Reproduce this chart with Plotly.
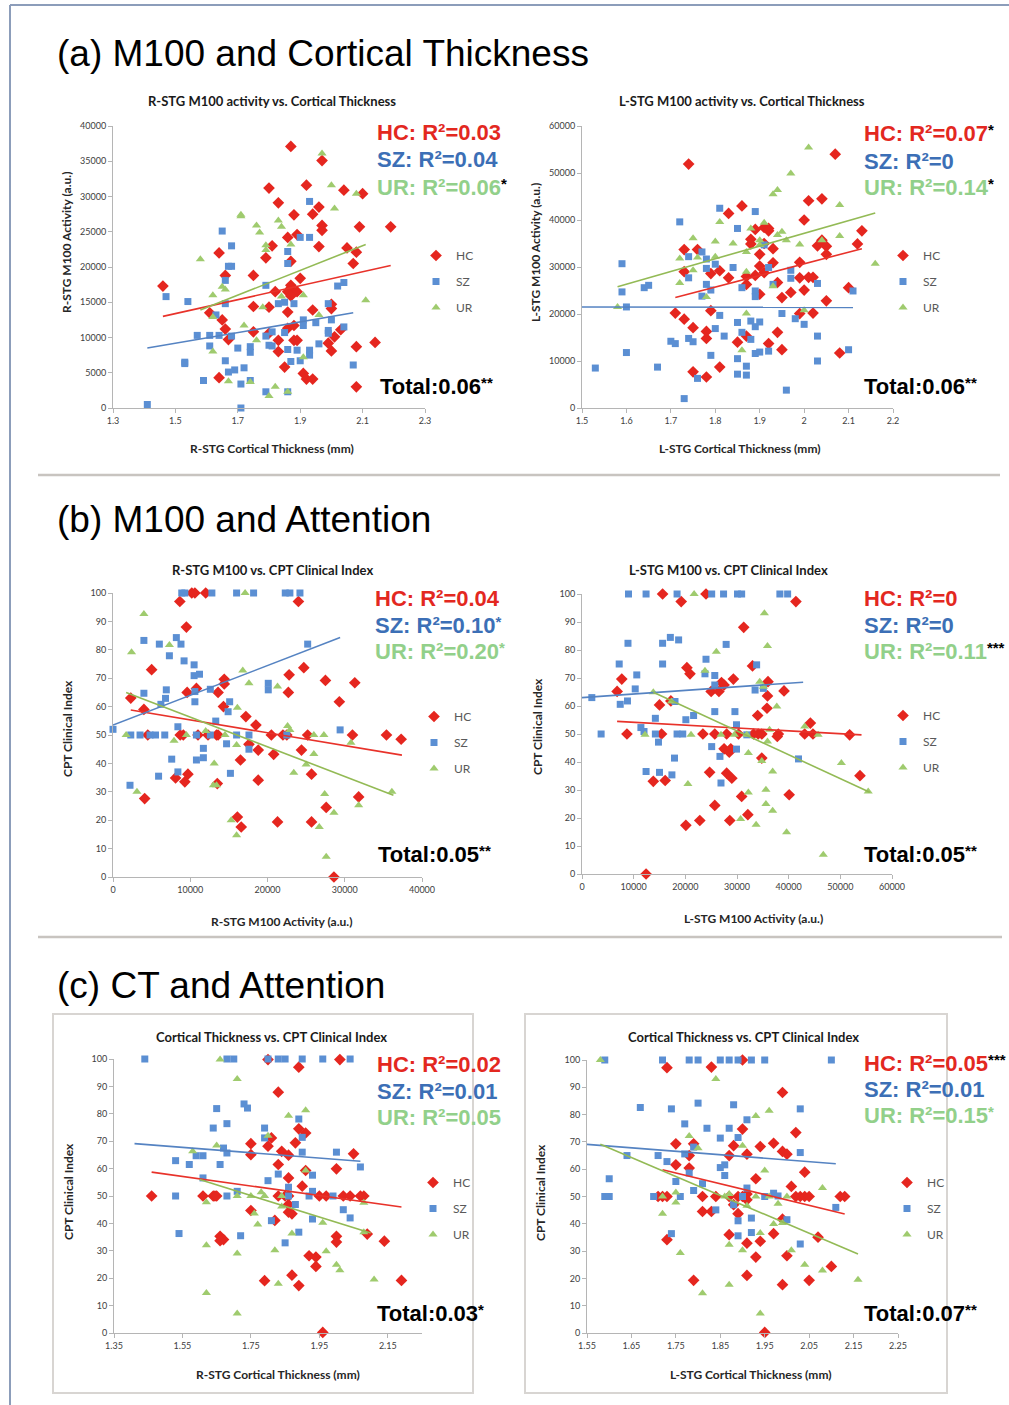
import plotly.graph_objects as go

W, H = 1009, 1405

# ---------------- DATA ----------------
# (a) left: R-STG cortical thickness (mm) vs R-STG M100 activity (a.u.)
A1_HC = [(1.87,37100),(1.97,35100),(1.80,31200),(1.92,31600),(2.04,30900),(2.10,30400),(1.83,29100),(1.96,28500),
         (1.88,27400),(1.94,27500),(1.97,25900),(1.97,25200),(2.09,25700),(2.19,25700),(1.89,24600),(1.86,24200),
         (1.81,23000),(1.96,22900),(2.05,22700),(1.64,22000),(2.08,22100),(1.79,21300),(1.87,20800),(2.07,20500),
         (1.90,18400),(1.66,18800),(1.75,18800),(1.46,17300),(1.87,17400),(1.87,17000),(1.86,16500),(1.89,16500),
         (1.82,16500),(1.87,15900),(2.00,14700),(2.00,14100),(1.75,14400),(1.80,14300),(1.86,13600),(1.94,13900),
         (1.61,13500),(1.65,12500),(1.66,11200),(1.75,10800),(1.80,10600),(1.86,11300),(1.88,11700),(2.03,11100),
         (2.01,10100),(1.83,9600),(1.88,9600),(1.89,9600),(1.99,9200),(2.14,9300),(1.67,9700),(2.08,8700),
         (1.83,8000),(2.00,8100),(1.91,4900),(1.92,4100),(1.94,4100),(1.64,4300),(1.85,5800),(2.08,3000)]
A1_SZ = [(1.47,15800),(1.54,15100),(1.57,10300),(1.61,10300),(1.64,10300),(1.61,8800),(1.53,6500),(1.53,6300),
         (1.59,3900),(1.41,500),(1.71,0),(1.65,25100),(1.68,23000),(1.67,20100),(1.68,20100),(1.66,18100),
         (1.66,14800),(1.63,13200),(1.68,10200),(1.70,8500),(1.74,8700),(1.74,7900),(1.66,6700),(1.67,5100),
         (1.69,5400),(1.72,5700),(1.71,3400),(1.74,3900),(1.79,17400),(1.79,10200),(1.81,10800),(1.80,8900),
         (1.81,8800),(1.83,14800),(1.85,15000),(1.86,22200),(1.86,20500),(1.88,14800),(1.86,8300),(1.87,6600),
         (1.85,10700),(1.90,24200),(1.93,24200),(1.93,29300),(1.89,8200),(1.90,6700),(1.91,12500),(1.91,11700),
         (1.93,8200),(1.93,7500),(1.95,12100),(1.96,9100),(1.99,14800),(1.99,11000),(1.99,10600),(2.00,12500),
         (2.02,17300),(2.04,17800),(2.04,11500),(2.07,6100),(1.86,2300),(1.79,2300)]
A1_UR = [(1.97,36100),(2.00,31600),(2.08,30400),(1.71,27400),(1.71,27200),(1.76,25900),(1.77,24900),(1.83,26600),
         (1.84,25700),(1.79,23100),(1.79,22400),(1.87,23200),(2.01,28300),(1.58,21100),(1.65,17200),(1.66,16800),
         (1.62,16000),(1.62,12900),(1.62,8000),(1.72,11700),(1.76,9600),(1.78,14300),(1.84,15800),(1.91,16000),
         (1.96,13200),(1.91,7200),(1.67,3800),(1.74,3700),(1.82,3000),(1.80,1700),(1.86,2300),(2.11,15300)]
A1_FIT_HC = [(1.46,13000),(2.19,20200)]
A1_FIT_SZ = [(1.41,8500),(2.07,13500)]
A1_FIT_UR = [(1.58,13900),(2.11,23200)]

# (a) right: L-STG cortical thickness (mm) vs L-STG M100 activity (a.u.)
A2_HC = [(1.74,51900),(2.07,54000),(1.86,43000),(1.83,41400),(1.89,38000),(1.91,38400),(1.92,38200),(1.92,37700),
         (1.88,35900),(1.88,34900),(1.91,35000),(1.93,33900),(2.00,40000),(2.01,44100),(2.04,44500),(2.04,35700),
         (2.03,34500),(2.05,34400),(2.05,32700),(2.13,37700),(2.12,34900),(1.73,33700),(1.76,33700),(1.73,29000),
         (1.79,28600),(1.81,29200),(1.83,27700),(1.87,26300),(1.90,32700),(1.90,30200),(1.91,28800),(1.93,30900),
         (1.89,28200),(1.87,28000),(1.94,26700),(1.99,31000),(1.99,27700),(2.01,27800),(2.02,27800),(2.00,25100),
         (1.97,24600),(1.95,23500),(2.10,25600),(2.05,22800),(1.71,20200),(1.73,18900),(1.75,17100),(1.78,16300),
         (1.78,14800),(1.79,20700),(1.87,15300),(1.85,14000),(1.92,13700),(1.94,16100),(1.95,12400),(1.99,20100),
         (2.02,20200),(2.08,11700),(1.81,8700),(1.75,7700),(1.78,6600),(1.90,24200)]
A2_SZ = [(1.53,8500),(1.59,30700),(1.59,24700),(1.60,21500),(1.60,11800),(1.64,25600),(1.65,26100),(1.67,8700),
         (1.70,14200),(1.71,13700),(1.72,39600),(1.73,2000),(1.74,32200),(1.74,27700),(1.74,14800),(1.75,14100),
         (1.76,6300),(1.77,33200),(1.77,23800),(1.78,31700),(1.78,29700),(1.78,26300),(1.79,25100),(1.79,11200),
         (1.80,30600),(1.80,16900),(1.81,42500),(1.81,19700),(1.82,15300),(1.84,29900),(1.85,38200),(1.85,18200),
         (1.85,10500),(1.85,7200),(1.86,25600),(1.86,16100),(1.87,8900),(1.87,7000),(1.88,18500),(1.88,14600),
         (1.89,41800),(1.89,24900),(1.89,23700),(1.89,17300),(1.90,18300),(1.89,11600),(1.90,11900),(1.91,34700),
         (1.92,29900),(1.93,26300),(1.92,12100),(1.95,20100),(1.96,3800),(1.97,29300),(1.97,27600),(1.98,19000),
         (2.00,17800),(2.03,26500),(2.03,15300),(2.03,10000),(2.10,12400),(2.11,24900)]
A2_UR = [(2.01,55400),(1.97,49900),(1.94,46400),(1.93,45500),(2.08,43200),(1.81,39600),(1.88,38200),(1.91,39400),
         (1.94,36800),(1.95,37500),(1.96,35700),(2.08,36600),(2.04,35700),(1.99,34800),(1.75,36100),(1.80,35400),
         (1.84,35000),(1.90,35700),(1.90,34700),(1.87,33200),(1.72,31800),(1.76,32000),(1.80,32200),(1.75,29300),
         (1.72,26600),(1.87,29000),(1.93,25900),(1.78,23600),(1.87,20100),(2.00,20800),(1.58,21500),(1.86,12300),
         (2.16,30700)]
A2_FIT_HC = [(1.71,23500),(2.13,33900)]
A2_FIT_SZ = [(1.50,21500),(2.11,21400)]
A2_FIT_UR = [(1.58,25800),(2.16,41500)]

# (b) left: R-STG M100 activity (a.u.) vs CPT clinical index
B1_HC = [(8650,97),(10200,100),(10600,100),(12000,100),(24000,97),(9500,88),(5000,73),(2300,63),(4000,59),
         (9600,65),(10800,66.4),(13600,65),(14400,69.6),(14400,68),(14300,60),(4500,50),(8700,50),(9100,50),
         (11000,50),(12300,50),(13400,50),(13600,50),(17200,56.5),(18500,53.5),(20500,50),(22000,50),(22500,50),
         (20800,43.2),(18800,44.7),(17600,46.7),(16500,41.2),(22800,71.2),(22700,65),(24700,73.7),(25200,50),
         (24400,44.7),(25700,36.2),(27500,69.2),(29300,61.7),(31300,68.4),(31000,50),(35400,50),(37300,48.5),
         (31800,28.2),(27600,24.5),(25700,19.4),(21300,19.4),(16100,21.1),(16600,17.6),(18800,34.1),(13500,32.9),
         (9700,36.2),(9300,33.5),(8100,34.9),(4100,27.6),(28600,0)]
B1_SZ = [(0,52),(2200,32.3),(2300,50),(3500,50),(4000,83.3),(4000,64.7),(4800,50),(5500,50),(5900,35.5),
         (6000,82),(6200,60.8),(6700,50),(6900,65.9),(6800,62.9),(7300,77.9),(7600,41.5),(8200,84.3),(8800,82),
         (8400,52.9),(8400,37),(9200,76.1),(10500,74.7),(10500,70.9),(11200,71.4),(10600,61.7),(10600,65.3),
         (10800,50),(10800,41.2),(11700,45.3),(11700,42),(12600,50),(12600,66.1),(13300,54.9),(15100,61.7),
         (14900,58.2),(14700,46.9),(15200,36.5),(16000,50),(17600,50),(17600,45),(20100,68.2),(20100,65.9),
         (22500,50),(25200,82),(29400,51.8),(8900,100),(9300,100),(12800,100),(16000,100),(18200,100),
         (22300,100),(22900,100),(24200,100)]
B1_UR = [(4000,92.6),(2400,79.1),(7300,81.7),(1700,50),(3100,30),(7900,48),(9500,50),(12000,51.4),(14500,50),
         (13100,40),(13000,32.3),(15300,20),(16000,14.7),(16100,59.6),(16000,46.5),(16800,72.7),(17600,68.2),
         (17100,100),(21300,67.1),(22600,53.2),(22900,51.8),(23400,36.7),(25000,39.6),(26000,50),(26000,43.3),
         (27300,50),(27400,29.2),(26700,17.6),(27600,7.1),(28600,22.6),(30800,47.3),(31800,25.3),(36100,30),
         (13400,32.3)]
B1_FIT_HC = [(2300,58.8),(37400,42.9)]
B1_FIT_SZ = [(0,53.5),(29400,84.3)]
B1_FIT_UR = [(1700,65),(36300,28.8)]

# (b) right: L-STG M100 activity (a.u.) vs CPT clinical index
B2_HC = [(15600,100),(24000,100),(19200,97.3),(41400,97.3),(31300,88.1),(33000,74.3),(7700,69.6),(6800,65.2),
         (20300,73.7),(20900,71.5),(27000,68.4),(27500,67.5),(29300,69.6),(25000,65.2),(26500,65.2),(36000,68.7),
         (39100,65.4),(35900,63.6),(35800,59.2),(34000,56.6),(44200,53.9),(15000,60.4),(17200,61.8),(8700,50),
         (15400,50),(23400,50),(25700,50),(28000,50),(30300,50),(33200,50),(34100,50),(34800,50),(37800,49.1),
         (38000,50),(43100,50),(44700,50),(51800,49.7),(27500,44.7),(28500,43.5),(28800,44.7),(34800,41.4),
         (24700,36.3),(28000,36),(29000,34.2),(13800,33.1),(16100,33.4),(30900,27.7),(40100,28.3),(53800,35.1),
         (25700,24.5),(32100,21.2),(22800,19.1),(28600,19.1),(20100,17.4),(12400,0)]
B2_SZ = [(1900,63),(3700,50),(7200,75),(7400,60.6),(8800,61.8),(8900,82.4),(10300,66.1),(10600,71.1),
         (11400,52.3),(12000,50.9),(12400,36.6),(14200,55.6),(14200,50),(14800,47.1),(15000,36.3),(15600,82.4),
         (15600,75),(17100,84.5),(17400,35.4),(17900,41.4),(18000,61.6),(18700,83.6),(18400,50),(19500,50),
         (20100,55.1),(21600,56.6),(24000,76.7),(23800,71.5),(25100,45.5),(25700,70.9),(25700,67.5),(25700,58),
         (26700,42),(26900,32.5),(27900,82),(29600,58),(29900,53.3),(29900,44.6),(31900,49.7),(33500,65.7),
         (33800,74.7),(35100,66.3),(41900,41.1),(9000,100),(12400,100),(18400,100),(25100,100),(27400,100),
         (30100,100),(30900,100),(38300,100),(39800,100)]
B2_UR = [(21700,100),(35300,93.1),(35900,81.4),(26000,79.4),(23800,72.6),(34400,68.7),(35100,66.9),(37700,59.8),
         (12200,49.7),(21100,49.7),(26900,49.7),(29500,49.7),(31900,49.7),(36300,51.5),(35900,47.3),(43100,52.7),
         (45700,49.7),(32200,43.2),(34800,40.4),(36900,36.6),(50200,39.6),(20500,32.1),(32200,29.1),(35600,30.1),
         (35600,25),(36900,22.6),(30700,19.6),(33700,17.6),(39600,14.9),(46700,6.9),(55400,29.5),(17300,61.6),
         (13800,64.9)]
B2_FIT_HC = [(6800,54.5),(54100,49.7)]
B2_FIT_SZ = [(0,63),(42800,68.5)]
B2_FIT_UR = [(13800,64.9),(55700,29.2)]

# (c) left: R-STG cortical thickness (mm) vs CPT clinical index
C1_HC = [(1.46,50),(1.61,50),(1.64,50),(1.645,50),(1.65,50),(1.66,35.3),(1.67,34.1),(1.66,33.7),(1.75,69.1),
         (1.75,65.1),(1.75,44.7),(1.80,99.8),(1.80,68.2),(1.81,71.2),(1.79,19.1),(1.82,41.1),(1.83,87.9),
         (1.83,61.5),(1.84,66.3),(1.83,50),(1.85,50),(1.86,64.9),(1.86,56.6),(1.86,50),(1.86,46.9),(1.86,44.1),
         (1.87,43.5),(1.87,21.1),(1.89,97),(1.89,74.5),(1.91,73),(1.88,69.4),(1.90,53.6),(1.89,17.3),(1.92,28.2),
         (1.94,27.7),(1.94,24.3),(1.95,50),(1.97,50),(2.00,59.9),(2.00,35.3),(2.00,33.2),(2.01,99.8),(2.02,50),
         (2.04,50),(2.05,65.4),(2.07,50),(2.08,50),(2.09,36.1),(2.14,33.5),(2.19,19.2),(1.96,0.2),(1.91,59.3)]
C1_SZ = [(1.44,100),(1.53,50),(1.54,36.3),(1.53,62.9),(1.57,61.5),(1.59,64.7),(1.61,64.7),(1.61,56.6),(1.64,74.8),
         (1.65,81.9),(1.66,61.5),(1.67,67.5),(1.68,65.7),(1.68,76.4),(1.68,50),(1.68,100),(1.70,100),(1.71,51.7),
         (1.72,35.5),(1.73,83.6),(1.74,82.1),(1.79,74.8),(1.79,71.2),(1.80,55.6),(1.81,41),(1.80,100),(1.83,100),
         (1.85,100),(1.83,58),(1.85,32.9),(1.86,53.2),(1.86,50),(1.88,46.9),(1.89,78.1),(1.89,36.8),(1.90,100),
         (1.90,71.4),(1.90,66),(1.92,50),(1.93,57.6),(1.93,41.6),(1.93,51.7),(1.96,100),(1.99,50),(2.00,66),
         (2.02,45),(2.04,100),(2.04,42),(2.07,60.6)]
C1_UR = [(1.66,99.8),(1.71,92.7),(1.86,79.3),(1.91,81.3),(1.80,72),(1.65,68.4),(1.58,66.3),(1.91,59.3),(1.62,47.7),
         (1.71,50),(1.75,50),(1.79,50),(1.78,51.4),(1.84,50),(1.84,46.2),(1.76,43.6),(1.77,39.6),(1.87,36.3),
         (1.96,40.2),(2.08,47.5),(1.62,32),(1.71,29),(1.82,30.2),(1.97,29.8),(2.00,24.9),(2.01,22.9),(2.11,19.5),
         (1.83,18),(1.62,14.6),(1.71,7.1),(2.08,36.8)]
C1_FIT_HC = [(1.46,58.7),(2.19,46)]
C1_FIT_SZ = [(1.41,69.1),(2.07,62.7)]
C1_FIT_UR = [(1.60,56),(2.10,36.5)]

# (c) right: L-STG cortical thickness (mm) vs CPT clinical index
C2_HC = [(1.73,97.2),(1.83,97.4),(1.90,100),(1.99,88.1),(1.90,74.7),(1.79,69.3),(1.75,69.3),(1.88,68.6),(1.94,68.3),
         (1.97,69.5),(1.99,66.5),(2.00,65.5),(1.87,65),(1.91,65.5),(1.78,65),(2.02,73.4),(1.75,61.6),(1.78,60.4),
         (2.04,58.9),(1.93,56.5),(2.01,53.7),(1.71,50),(1.72,50),(1.73,50),(1.81,50),(1.84,50),(1.87,50),(1.89,50),
         (1.90,50),(1.91,50.9),(1.91,48.8),(2.02,50),(2.03,50),(2.04,50),(2.05,50),(2.12,50),(2.13,50),(1.81,44.5),
         (1.83,44.5),(1.88,47),(1.89,43.7),(1.99,41.7),(1.87,36),(1.91,32.9),(1.94,33.6),(1.97,36.4),(1.73,34.2),
         (2.07,35.1),(1.93,27.8),(2.00,28.3),(1.91,21.1),(1.79,19.3),(1.99,17.7),(2.05,19.3),(2.10,24.4),(1.95,0.2)]
C2_SZ = [(1.59,100),(1.72,100),(1.78,100),(1.80,100),(1.85,100),(1.87,100),(1.89,100),(1.92,100),(1.95,100),
         (2.10,100),(1.59,50),(1.60,50),(1.60,56.5),(1.64,65),(1.67,82.6),(1.74,82.1),(1.80,84.2),(1.88,83.6),
         (1.77,76.6),(1.82,75),(1.87,75),(1.91,78.1),(1.85,71.4),(1.89,71.6),(1.71,65),(1.73,62.8),(1.77,65.6),
         (1.79,68.1),(1.85,60.6),(1.86,61.6),(1.86,57.7),(1.75,55.5),(1.81,54.7),(1.78,58.6),(1.79,52.2),
         (1.91,53.1),(2.03,82.1),(2.03,66.1),(1.70,50),(1.76,50),(1.90,50),(1.95,50),(1.97,51.2),(1.98,50.2),
         (1.84,45.1),(1.88,47),(1.89,41.1),(1.92,42.1),(1.92,36.8),(1.89,35.6),(1.74,36.4),(2.00,41.5),(2.03,32.6),
         (2.11,46)]
C2_UR = [(1.58,100),(1.84,93),(1.96,81.4),(1.93,79.5),(1.78,72.2),(1.80,67.7),(1.90,68.6),(1.95,59.5),(1.75,51.5),
         (1.75,47.8),(1.72,50),(1.86,50),(1.87,50.9),(1.93,50),(1.96,50),(2.00,50),(1.98,47.3),(1.91,46.6),
         (1.72,43.7),(1.97,39.9),(1.99,40.3),(2.08,53.1),(1.94,36.6),(1.87,32.3),(1.90,30.3),(1.76,29.3),
         (2.01,30.3),(2.04,25),(2.08,22.9),(1.87,17.7),(1.81,14.6),(2.16,19.5),(1.94,7.1)]
C2_FIT_HC = [(1.72,59.8),(2.13,43.6)]
C2_FIT_SZ = [(1.55,69.1),(2.11,62)]
C2_FIT_UR = [(1.58,69.1),(2.16,28.9)]

# tick values / labels
TICKS_CT_R_A = [1.3, 1.5, 1.7, 1.9, 2.1, 2.3]
TICKS_CT_L_A = [1.5, 1.6, 1.7, 1.8, 1.9, 2.0, 2.1, 2.2]
TICKS_M100_R = [0, 5000, 10000, 15000, 20000, 25000, 30000, 35000, 40000]
TICKS_M100_L = [0, 10000, 20000, 30000, 40000, 50000, 60000]
TICKS_M100_R_B = [0, 10000, 20000, 30000, 40000]
TICKS_CPT = [0, 10, 20, 30, 40, 50, 60, 70, 80, 90, 100]
TICKS_CT_R_C = [1.35, 1.55, 1.75, 1.95, 2.15]
TICKS_CT_L_C = [1.55, 1.65, 1.75, 1.85, 1.95, 2.05, 2.15, 2.25]

SECTION_TITLES = ["(a) M100 and Cortical Thickness", "(b) M100 and Attention", "(c) CT and Attention"]
GROUPS = ["HC", "SZ", "UR"]

# ---------------- STYLE ----------------
MARK_COL = {"HC": "#e5261f", "SZ": "#5b8fd3", "UR": "#9fcb6e"}
LINE_COL = {"HC": "#e8322a", "SZ": "#5583c2", "UR": "#93ba55"}
TEXT_COL = {"HC": "#e3281f", "SZ": "#3c6fb6", "UR": "#92d08a"}
SYMBOL = {"HC": "diamond", "SZ": "square", "UR": "triangle-up"}
MSIZE = {"HC": 9, "SZ": 7, "UR": 8}
LAB = "Lato"
ARIAL = "Liberation Sans, Arial"
STAR = "<span style='font-size:15px;baseline-shift:40%%;fill:%s'>%s</span>"

def fx(p): return p / W
def fy(p): return 1 - p / H

def fmt(v):
    if isinstance(v, float):
        return ("%.2f" % v).rstrip("0").rstrip(".")
    return str(v)

panels = [
    dict(data=(A1_HC, A1_SZ, A1_UR), fits=(A1_FIT_HC, A1_FIT_SZ, A1_FIT_UR),
         title="R-STG M100 activity vs. Cortical Thickness", tpos=(272, 101),
         xt="R-STG Cortical Thickness (mm)", xtpos=(272, 449),
         yt="R-STG M100 Activity (a.u.)", ytpos=(66, 243),
         dom=(113, 425, 126, 408), xr=(1.3, 2.3), yr=(0, 40000), xticks=TICKS_CT_R_A, yticks=TICKS_M100_R,
         stats=[("0.03", "", None), ("0.04", "", None), ("0.06", "*", "black")], spos=(375, 133, 160, 187),
         total=("0.06", "**"), totpos=(378, 387), leg=(440, 253)),
    dict(data=(A2_HC, A2_SZ, A2_UR), fits=(A2_FIT_HC, A2_FIT_SZ, A2_FIT_UR),
         title="L-STG M100 activity vs. Cortical Thickness", tpos=(742, 101),
         xt="L-STG Cortical Thickness (mm)", xtpos=(740, 449),
         yt="L-STG M100 Activity (a.u.)", ytpos=(535, 253),
         dom=(582, 893, 126, 408), xr=(1.5, 2.2), yr=(0, 60000), xticks=TICKS_CT_L_A, yticks=TICKS_M100_L,
         stats=[("0.07", "*", "black"), ("0", "", None), ("0.14", "*", "black")], spos=(862, 134, 162, 187),
         total=("0.06", "**"), totpos=(862, 387), leg=(907, 253)),
    dict(data=(B1_HC, B1_SZ, B1_UR), fits=(B1_FIT_HC, B1_FIT_SZ, B1_FIT_UR),
         title="R-STG M100 vs. CPT Clinical Index", tpos=(272, 570),
         xt="R-STG M100 Activity (a.u.)", xtpos=(281, 921),
         yt="CPT Clinical Index", ytpos=(68, 729),
         dom=(113, 422, 593, 877), xr=(0, 40000), yr=(0, 100), xticks=TICKS_M100_R_B, yticks=TICKS_CPT,
         stats=[("0.04", "", None), ("0.10", "*", "SZ"), ("0.20", "*", "UR")], spos=(373, 598, 625, 652),
         total=("0.05", "**"), totpos=(376, 854), leg=(438, 714)),
    dict(data=(B2_HC, B2_SZ, B2_UR), fits=(B2_FIT_HC, B2_FIT_SZ, B2_FIT_UR),
         title="L-STG M100 vs. CPT Clinical Index", tpos=(728, 570),
         xt="L-STG M100 Activity (a.u.)", xtpos=(753, 918),
         yt="CPT Clinical Index", ytpos=(537, 727),
         dom=(582, 892, 594, 874), xr=(0, 60000), yr=(0, 100), xticks=TICKS_M100_L, yticks=TICKS_CPT,
         stats=[("0", "", None), ("0", "", None), ("0.11", "***", "black")], spos=(862, 598, 626, 652),
         total=("0.05", "**"), totpos=(862, 854), leg=(907, 713)),
    dict(data=(C1_HC, C1_SZ, C1_UR), fits=(C1_FIT_HC, C1_FIT_SZ, C1_FIT_UR),
         title="Cortical Thickness vs. CPT Clinical Index", tpos=(271, 1037),
         xt="R-STG Cortical Thickness (mm)", xtpos=(278, 1374),
         yt="CPT Clinical Index", ytpos=(68, 1192),
         dom=(114, 422, 1059, 1333), xr=(1.35, 2.25), yr=(0, 100), xticks=TICKS_CT_R_C, yticks=TICKS_CPT,
         stats=[("0.02", "", None), ("0.01", "", None), ("0.05", "", None)], spos=(375, 1064, 1091, 1117),
         total=("0.03", "*"), totpos=(375, 1313), leg=(437, 1180)),
    dict(data=(C2_HC, C2_SZ, C2_UR), fits=(C2_FIT_HC, C2_FIT_SZ, C2_FIT_UR),
         title="Cortical Thickness vs. CPT Clinical Index", tpos=(743, 1037),
         xt="L-STG Cortical Thickness (mm)", xtpos=(751, 1374),
         yt="CPT Clinical Index", ytpos=(540, 1193),
         dom=(587, 898, 1060, 1333), xr=(1.55, 2.25), yr=(0, 100), xticks=TICKS_CT_L_C, yticks=TICKS_CPT,
         stats=[("0.05", "***", "black"), ("0.01", "", None), ("0.15", "*", "UR")], spos=(862, 1063, 1089, 1115),
         total=("0.07", "**"), totpos=(862, 1313), leg=(911, 1180)),
]

fig = go.Figure()
annotations = []
layout = {}

for i, p in enumerate(panels, start=1):
    sx = "" if i == 1 else str(i)
    xa, ya = "x" + sx, "y" + sx
    lg = "legend" + sx
    for g, pts in zip(GROUPS, p["data"]):
        fig.add_trace(go.Scatter(
            x=[a for a, b in pts], y=[b for a, b in pts], mode="markers", name=g,
            xaxis=xa, yaxis=ya, legend=lg, legendgroup=g + sx,
            marker=dict(symbol=SYMBOL[g], size=MSIZE[g], color=MARK_COL[g], line=dict(width=0)),
            cliponaxis=False))
    for g, fit in zip(GROUPS, p["fits"]):
        fig.add_trace(go.Scatter(
            x=[a for a, b in fit], y=[b for a, b in fit], mode="lines", showlegend=False,
            xaxis=xa, yaxis=ya, line=dict(color=LINE_COL[g], width=1.6)))
    x0, x1, y0, y1 = p["dom"]
    axis_common = dict(showgrid=False, zeroline=False, showline=True, linecolor="#b5b5b5", linewidth=1,
                       ticks="outside", ticklen=4, tickcolor="#b5b5b5", tickwidth=1, automargin=False,
                       tickfont=dict(family=LAB, size=9, color="#404040"), fixedrange=True)
    layout["xaxis" + sx] = dict(axis_common, domain=[fx(x0), fx(x1)], range=list(p["xr"]), anchor=ya,
                                tickmode="array", tickvals=p["xticks"], ticktext=[fmt(v) for v in p["xticks"]])
    layout["yaxis" + sx] = dict(axis_common, domain=[fy(y1), fy(y0)], range=list(p["yr"]), anchor=xa,
                                tickmode="array", tickvals=p["yticks"], ticktext=[fmt(v) for v in p["yticks"]])
    lx, ly = p["leg"]
    layout[lg] = dict(x=fx(lx - 24), y=fy(ly - 12), xanchor="left", yanchor="top", xref="paper", yref="paper",
                      bgcolor="rgba(0,0,0,0)", borderwidth=0, itemwidth=30, traceorder="grouped",
                      tracegroupgap=7, font=dict(family=LAB, size=12, color="#595959"))
    annotations.append(dict(text="<b>%s</b>" % p["title"], x=fx(p["tpos"][0]), y=fy(p["tpos"][1]),
                            xanchor="center", yanchor="middle", font=dict(family=LAB, size=13, color="#1a1a1a")))
    annotations.append(dict(text="<b>%s</b>" % p["xt"], x=fx(p["xtpos"][0]), y=fy(p["xtpos"][1]),
                            xanchor="center", yanchor="middle", font=dict(family=LAB, size=12, color="#262626")))
    annotations.append(dict(text="<b>%s</b>" % p["yt"], x=fx(p["ytpos"][0]), y=fy(p["ytpos"][1]), textangle=-90,
                            xanchor="center", yanchor="middle", font=dict(family=LAB, size=12, color="#262626")))
    sxp = p["spos"][0]
    for g, (val, star, scol), yy in zip(GROUPS, p["stats"], p["spos"][1:]):
        txt = "%s: R²=%s" % (g, val)
        if star:
            c = "black" if scol == "black" else TEXT_COL[scol]
            txt += STAR % (c, star)
        annotations.append(dict(text="<b>%s</b>" % txt, x=fx(sxp), y=fy(yy), xanchor="left", yanchor="middle",
                                font=dict(family=ARIAL, size=22, color=TEXT_COL[g])))
    tv, ts = p["total"]
    annotations.append(dict(text="<b>Total:%s%s</b>" % (tv, STAR % ("black", ts)), x=fx(p["totpos"][0]),
                            y=fy(p["totpos"][1]), xanchor="left", yanchor="middle",
                            font=dict(family=ARIAL, size=22, color="black")))

for t, yy in zip(SECTION_TITLES, (53, 520, 985)):
    annotations.append(dict(text=t, x=fx(55), y=fy(yy), xanchor="left", yanchor="middle",
                            font=dict(family=ARIAL, size=37, color="black")))

for a in annotations:
    a.update(xref="paper", yref="paper", showarrow=False)

def line(x0, y0, x1, y1, color, w):
    return dict(type="line", xref="paper", yref="paper", x0=fx(x0), y0=fy(y0), x1=fx(x1), y1=fy(y1),
                line=dict(color=color, width=w))

def rect(x0, y0, x1, y1, color, w):
    return dict(type="rect", xref="paper", yref="paper", x0=fx(x0), y0=fy(y0), x1=fx(x1), y1=fy(y1),
                line=dict(color=color, width=w), fillcolor="rgba(0,0,0,0)", layer="below")

shapes = [
    line(10, 5, 1009, 5, "#8c9dba", 2),
    line(10, 5, 10, 1405, "#8c9dba", 2),
    line(38, 475, 1000, 475, "#c8c4c0", 2.5),
    line(38, 937, 1002, 937, "#c8c4c0", 2.5),
    rect(53, 1014, 473, 1393, "#d8d5d2", 2),
    rect(525, 1014, 947, 1393, "#d8d5d2", 2),
]

fig.update_layout(width=W, height=H, margin=dict(l=0, r=0, t=0, b=0, pad=0, autoexpand=False), autosize=False,
                  paper_bgcolor="white", plot_bgcolor="rgba(0,0,0,0)",
                  annotations=annotations, shapes=shapes, showlegend=True, **layout)

fig.write_html("out.html", config={"displayModeBar": False, "responsive": False},
               post_script="document.body.style.margin='0';document.body.style.overflow='hidden';")
